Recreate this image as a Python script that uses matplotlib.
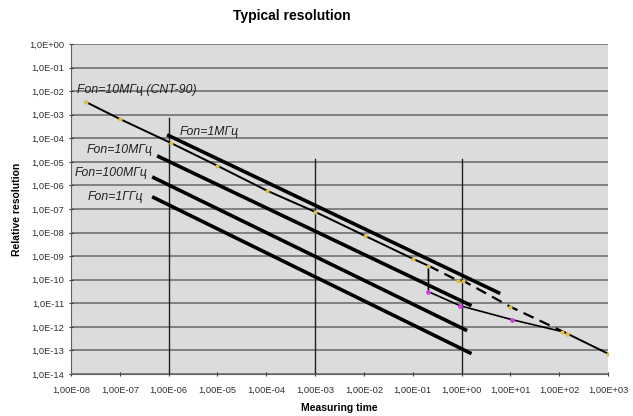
import matplotlib
matplotlib.use("Agg")
import matplotlib.pyplot as plt

plt.rcParams['font.family'] = ['Liberation Sans', 'DejaVu Sans']

# CNT-90 main curve (Fon=10MHz)
cnt_t = [2.0e-8, 1.0e-7, 1.1e-6, 1.0e-5, 1.05e-4, 1.0e-3, 1.05e-2, 0.1, 0.21]
cnt_y = [3.5e-3, 6.6e-4, 6.4e-5, 6.8e-6, 5.9e-7, 7.6e-8, 7.3e-9, 7.8e-10, 3.9e-10]
dash_t = [0.21, 0.85, 1.07, 9.9, 145]
dash_y = [3.9e-10, 9.1e-11, 9.1e-11, 7.2e-12, 5.2e-13]
tail_t = [115, 145, 1000]
tail_y = [6.3e-13, 5.2e-13, 7.3e-14]
# lower curve (magenta points)
low_t = [0.21, 0.21, 0.93, 11, 115]
low_y = [3.9e-10, 3.1e-11, 7.9e-12, 2.0e-12, 6.3e-13]
mag_t = [0.21, 0.93, 11]
mag_y = [3.1e-11, 7.9e-12, 2.0e-12]

# Fon lines (start, end)
fon_names = ["Fon=1МГц", "Fon=10МГц", "Fon=100МГц", "Fon=1ГГц"]
fon_t = [[9.3e-7, 6.2], [5.8e-7, 1.6], [4.6e-7, 1.3], [4.6e-7, 1.6]]
fon_y = [[1.4e-4, 2.6e-11], [1.8e-5, 7.9e-12], [2.3e-6, 6.9e-13], [3.3e-7, 7.3e-14]]

# vertical marker lines
vert_t = [1e-6, 1e-3, 1e0]
vert_top = [7.3e-4, 1.3e-5, 1.3e-5]

xt = [10.0**k for k in range(-8, 4)]
xt_labels = ["1,00E-08", "1,00E-07", "1,00E-06", "1,00E-05", "1,00E-04", "1,00E-03",
             "1,00E-02", "1,00E-01", "1,00E+00", "1,00E+01", "1,00E+02", "1,00E+03"]
yt = [10.0**(-k) for k in range(0, 15)]
yt_labels = ["1,0E+00"] + ["1,0E-%02d" % k for k in range(1, 15)]

fig = plt.figure(figsize=(6.33, 4.16), dpi=100)
ax = fig.add_axes([71/633, 1-374/416, (608-71)/633, (374-44)/416])
ax.set_facecolor('#dcdcdc')
ax.set_xscale('log')
ax.set_yscale('log')
ax.set_xlim(1e-8, 1e3)
ax.set_ylim(1e-14, 1e0)

for v in yt:
    ax.axhline(v, color='#7a7a7a', lw=1.3, zorder=1)

for t, top in zip(vert_t, vert_top):
    ax.plot([t, t], [top, 1e-14], color='#202020', lw=1.0, zorder=2)

for ts, ys in zip(fon_t, fon_y):
    ax.plot(ts, ys, color='black', lw=2.6, solid_capstyle='butt', zorder=3)

ax.plot(cnt_t, cnt_y, color='black', lw=1.4, zorder=4)
ax.plot(dash_t, dash_y, color='black', lw=1.6, ls=(0, (5, 3)), zorder=4)
ax.plot(tail_t, tail_y, color='black', lw=1.4, zorder=4)
ax.plot(low_t, low_y, color='black', lw=1.2, zorder=4)
ax.plot(mag_t, mag_y, ls='none', marker='o', ms=3.5, color='#d040e0', mec='none', zorder=5)
ax.plot(cnt_t + dash_t[1:] + tail_t, cnt_y + dash_y[1:] + tail_y, ls='none', marker='o',
        ms=3, color='#e0c040', mec='none', zorder=5)

ax.set_xticks(xt)
ax.set_xticklabels(xt_labels)
ax.set_yticks(yt)
ax.set_yticklabels(yt_labels)
ax.minorticks_off()
ax.tick_params(axis='both', labelsize=6.7, colors='#303030', length=3, direction='inout')
ax.tick_params(axis='x', pad=7)
for s in ['top', 'right']:
    ax.spines[s].set_visible(False)
for s in ['left', 'bottom']:
    ax.spines[s].set_color('#606060')

ax.set_xlabel("Measuring time", fontsize=7.5, fontweight='bold', labelpad=6)
ax.set_ylabel("Relative resolution", fontsize=7.5, fontweight='bold', labelpad=5)
fig.text(292/633, 1-16/416, "Typical resolution", fontsize=10, fontweight='bold',
         ha='center', va='center')

lab_kw = dict(fontsize=8.8, style='italic', color='#202020', va='center', zorder=6)
ax.text(1.33e-8, 1.1e-2, "Fon=10МГц (CNT-90)", **lab_kw)
ax.text(1.7e-6, 1.9e-4, fon_names[0], **lab_kw)
ax.text(2.1e-8, 3.2e-5, fon_names[1], **lab_kw)
ax.text(1.2e-8, 3.4e-6, fon_names[2], **lab_kw)
ax.text(2.2e-8, 3.3e-7, fon_names[3], **lab_kw)

fig.savefig("out.png", dpi=100)
